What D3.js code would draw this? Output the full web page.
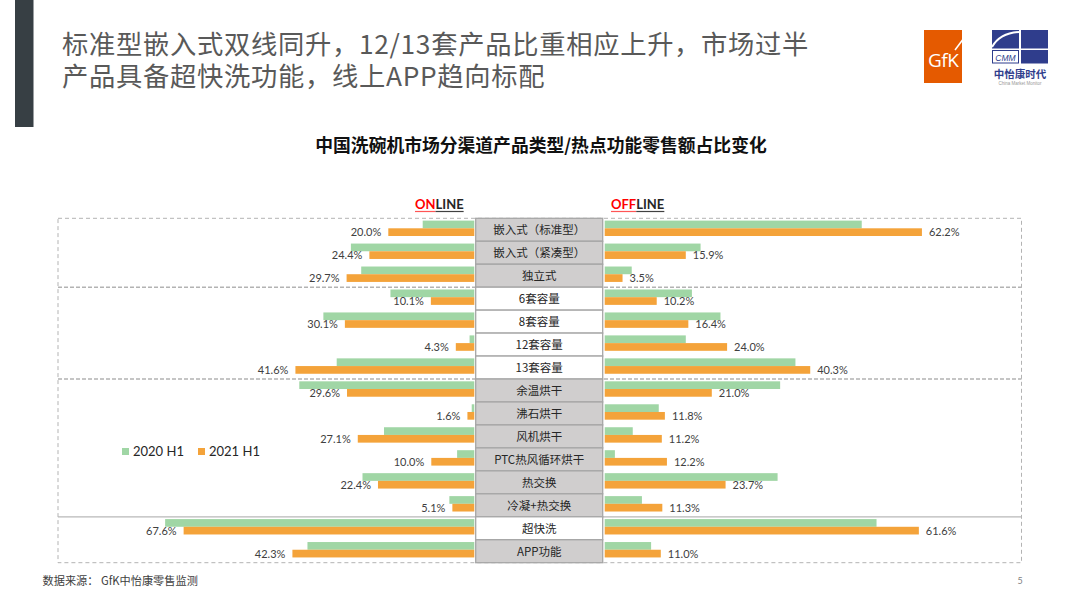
<!DOCTYPE html>
<html><head><meta charset="utf-8">
<script src="https://cdn.jsdelivr.net/npm/d3@7"></script>
<style>
html,body{margin:0;padding:0;background:#fff;}
svg{display:block;}
</style></head>
<body>
<svg id="chart" width="1080" height="605"></svg>
<script>
// ---------- data ----------
const categories = ["嵌入式（标准型）","嵌入式（紧凑型）","独立式","6套容量","8套容量","12套容量","13套容量","余温烘干","沸石烘干","风机烘干","PTC热风循环烘干","热交换","冷凝+热交换","超快洗","APP功能"];
const online2020  = [12.0,28.7,26.3,19.5,35.1,1.1,32.0,40.7,0.6,21.0,4.0,26.0,5.8,71.9,38.8];
const online2021  = [20.0,24.4,29.7,10.1,30.1,4.3,41.6,29.6,1.6,27.1,10.0,22.4,5.1,67.6,42.3];
const offline2020 = [50.4,18.8,5.3,17.1,22.7,15.9,37.4,34.4,10.6,5.5,2.0,33.9,7.3,53.3,9.1];
const offline2021 = [62.2,15.9,3.5,10.2,16.4,24.0,40.3,21.0,11.8,11.2,12.2,23.7,11.3,61.6,11.0];
const seriesNames = ["2020 H1","2021 H1"];
const groupStarts = ["嵌入式（标准型）","6套容量","余温烘干","超快洗"];
const highlighted = ["6套容量","8套容量","12套容量","13套容量","超快洗"];
const titleLines = ["标准型嵌入式双线同升，12/13套产品比重相应上升，市场过半","产品具备超快洗功能，线上APP趋向标配"];
const chartTitle = "中国洗碗机市场分渠道产品类型/热点功能零售额占比变化";
const sourceText = "数据来源： GfK中怡康零售监测";
const pageNumber = "5";

// ---------- styles ----------
const GREEN = "#a0d6a5", ORANGE = "#f4a33a";
const CJK = "'Noto Sans CJK SC','Noto Sans',sans-serif";
const LAT = "Lato,'Noto Sans CJK SC',sans-serif";

const svg = d3.select("#chart");

// left dark bar
svg.append("rect").attr("x",15).attr("y",0).attr("width",18.5).attr("height",127).attr("fill","#373f44");

// main title (two lines)
svg.selectAll("text.title").data(titleLines).enter().append("text")
  .attr("class","title")
  .attr("x",62).attr("y",(d,i)=>53.5+i*32.3)
  .attr("font-family",CJK).attr("font-size",26.3).attr("letter-spacing",0.7).attr("fill","#595959").text(d=>d);

// GfK logo
const gfk = svg.append("g");
gfk.append("rect").attr("x",924).attr("y",30).attr("width",38).attr("height",53).attr("fill","#e55a00");
gfk.append("text").attr("x",928).attr("y",67).attr("font-family","'Open Sans',sans-serif").attr("font-size",19)
  .attr("fill","#fff").attr("letter-spacing",-0.5).text("GfK");
gfk.append("line").attr("x1",955).attr("y1",50).attr("x2",970).attr("y2",30).attr("stroke","#fff").attr("stroke-width",1.5);

// CMM logo
const cmm = svg.append("g");
const BLUE = "#2f3d8c";
cmm.append("rect").attr("x",992).attr("y",30).attr("width",27).attr("height",18.5).attr("fill",BLUE);
cmm.append("path").attr("d","M992,47 Q1000,33 1019,32").attr("fill","none").attr("stroke","#fff").attr("stroke-width",2);
cmm.append("rect").attr("x",1021).attr("y",30).attr("width",27).attr("height",18.5).attr("fill",BLUE);
cmm.append("rect").attr("x",992.5).attr("y",50.5).attr("width",26).attr("height",12.5).attr("fill","#fff").attr("stroke",BLUE).attr("stroke-width",1);
cmm.append("text").attr("x",1005.5).attr("y",60.5).attr("text-anchor","middle").attr("font-family","'Liberation Sans',sans-serif")
  .attr("font-style","italic").attr("font-size",8.5).attr("fill",BLUE).text("CMM");
cmm.append("rect").attr("x",1021).attr("y",50).attr("width",27).attr("height",13.5).attr("fill",BLUE);
cmm.append("text").attr("x",1020).attr("y",77.5).attr("text-anchor","middle").attr("font-family",CJK)
  .attr("font-weight","bold").attr("font-size",10.5).attr("fill",BLUE).text("中怡康时代");
cmm.append("text").attr("x",1020).attr("y",84.5).attr("text-anchor","middle").attr("font-family","'Liberation Sans',sans-serif")
  .attr("font-size",4.5).attr("fill","#999").text("China Market Monitor");

// chart title
svg.append("text").attr("x",541).attr("y",151.5).attr("text-anchor","middle")
  .attr("font-family",CJK).attr("font-weight","bold").attr("font-size",17.8).attr("fill","#111").text(chartTitle);

// ---------- scales ----------
const y = d3.scaleBand().domain(categories).range([218.3,562.7]);
const xl = d3.scaleLinear().domain([0,100]).range([474.3,474.3-430]);
const xr = d3.scaleLinear().domain([0,100]).range([604.7,604.7+510]);
const boxL = 475.7, boxR = 602.7, outerL = 58, outerR = 1021.5;

// group frames
const gFrame = svg.append("g");
gFrame.append("rect").attr("x",outerL).attr("y",y.range()[0]).attr("width",outerR-outerL).attr("height",y.range()[1]-y.range()[0])
  .attr("fill","none").attr("stroke","#b3b3b3").attr("stroke-dasharray","4,3").attr("stroke-width",1);
groupStarts.slice(1).forEach((c,i)=>{
  const last = i===groupStarts.length-2;
  gFrame.append("line").attr("x1",outerL).attr("x2",outerR).attr("y1",y(c)).attr("y2",y(c))
    .attr("stroke",last?"#b8b8b8":"#b3b3b3").attr("stroke-width",last?1.2:1.4)
    .attr("stroke-dasharray",last?null:"4,2");
});

// bars
const bh = 7.7, off1 = 2.3;
const barData = [
  {vals:online2020, side:"L", color:GREEN, o:off1},
  {vals:online2021, side:"L", color:ORANGE, o:off1+bh},
  {vals:offline2020, side:"R", color:GREEN, o:off1},
  {vals:offline2021, side:"R", color:ORANGE, o:off1+bh}
];
barData.forEach(s=>{
  svg.append("g").selectAll("rect").data(categories).enter().append("rect")
    .attr("x",(c,i)=> s.side==="L" ? xl(s.vals[i]) : xr(0))
    .attr("width",(c,i)=> s.side==="L" ? xl(0)-xl(s.vals[i]) : xr(s.vals[i])-xr(0))
    .attr("y",c=>y(c)+s.o).attr("height",bh).attr("fill",s.color);
});

// value labels (2021)
svg.append("g").selectAll("text").data(categories).enter().append("text")
  .attr("x",(c,i)=>xl(online2021[i])-7).attr("y",c=>y(c)+off1+bh*1.5+4)
  .attr("text-anchor","end").attr("font-family",LAT).attr("font-size",11).attr("fill","#404040")
  .text((c,i)=>online2021[i].toFixed(1)+"%");
svg.append("g").selectAll("text").data(categories).enter().append("text")
  .attr("x",(c,i)=>xr(offline2021[i])+7).attr("y",c=>y(c)+off1+bh*1.5+4)
  .attr("font-family",LAT).attr("font-size",11).attr("fill","#404040")
  .text((c,i)=>offline2021[i].toFixed(1)+"%");

// category boxes
const cb = svg.append("g");
cb.selectAll("rect").data(categories).enter().append("rect")
  .attr("x",boxL).attr("y",c=>y(c)).attr("width",boxR-boxL).attr("height",y.bandwidth())
  .attr("fill",c=>highlighted.includes(c)?"#ffffff":"#d0cece")
  .attr("stroke","#a6a6a6").attr("stroke-width",1.3);
cb.selectAll("text").data(categories).enter().append("text")
  .attr("x",(boxL+boxR)/2).attr("y",c=>y(c)+y.bandwidth()/2+4.3).attr("text-anchor","middle")
  .attr("font-family",CJK).attr("font-size",11.5).attr("fill","#262626").text(c=>c);

// ONLINE / OFFLINE headers
function header(x, red, rest){
  const t = svg.append("text").attr("x",x).attr("y",209).attr("font-family",LAT).attr("font-weight","bold").attr("font-size",13);
  t.append("tspan").attr("fill","#ff0000").text(red);
  t.append("tspan").attr("fill","#262626").text(rest);
  const n = t.node();
  const wRed = n.getSubStringLength(0,red.length), wAll = n.getComputedTextLength();
  svg.append("line").attr("x1",x).attr("x2",x+wRed).attr("y1",211.5).attr("y2",211.5).attr("stroke","#ff5555").attr("stroke-width",1.2);
  svg.append("line").attr("x1",x+wRed).attr("x2",x+wAll).attr("y1",211.5).attr("y2",211.5).attr("stroke","#404040").attr("stroke-width",1.2);
}
header(415,"ON","LINE");
header(611,"OFF","LINE");

// legend
const lg = svg.append("g").attr("transform","translate(122,448)");
const legX = [0,76];
seriesNames.forEach((n,i)=>{
  lg.append("rect").attr("x",legX[i]).attr("y",0).attr("width",7).attr("height",7).attr("fill",i?ORANGE:GREEN);
  lg.append("text").attr("x",legX[i]+11).attr("y",8).attr("font-family",LAT).attr("font-size",13).attr("fill","#262626").text(n);
});

// footer
svg.append("text").attr("x",42.5).attr("y",585).attr("font-family",CJK).attr("font-size",11.2).attr("fill","#404040").text(sourceText);
svg.append("text").attr("x",1020).attr("y",584).attr("text-anchor","middle").attr("font-family",LAT).attr("font-size",9).attr("fill","#7f7f7f").text(pageNumber);
</script>
</body></html>
